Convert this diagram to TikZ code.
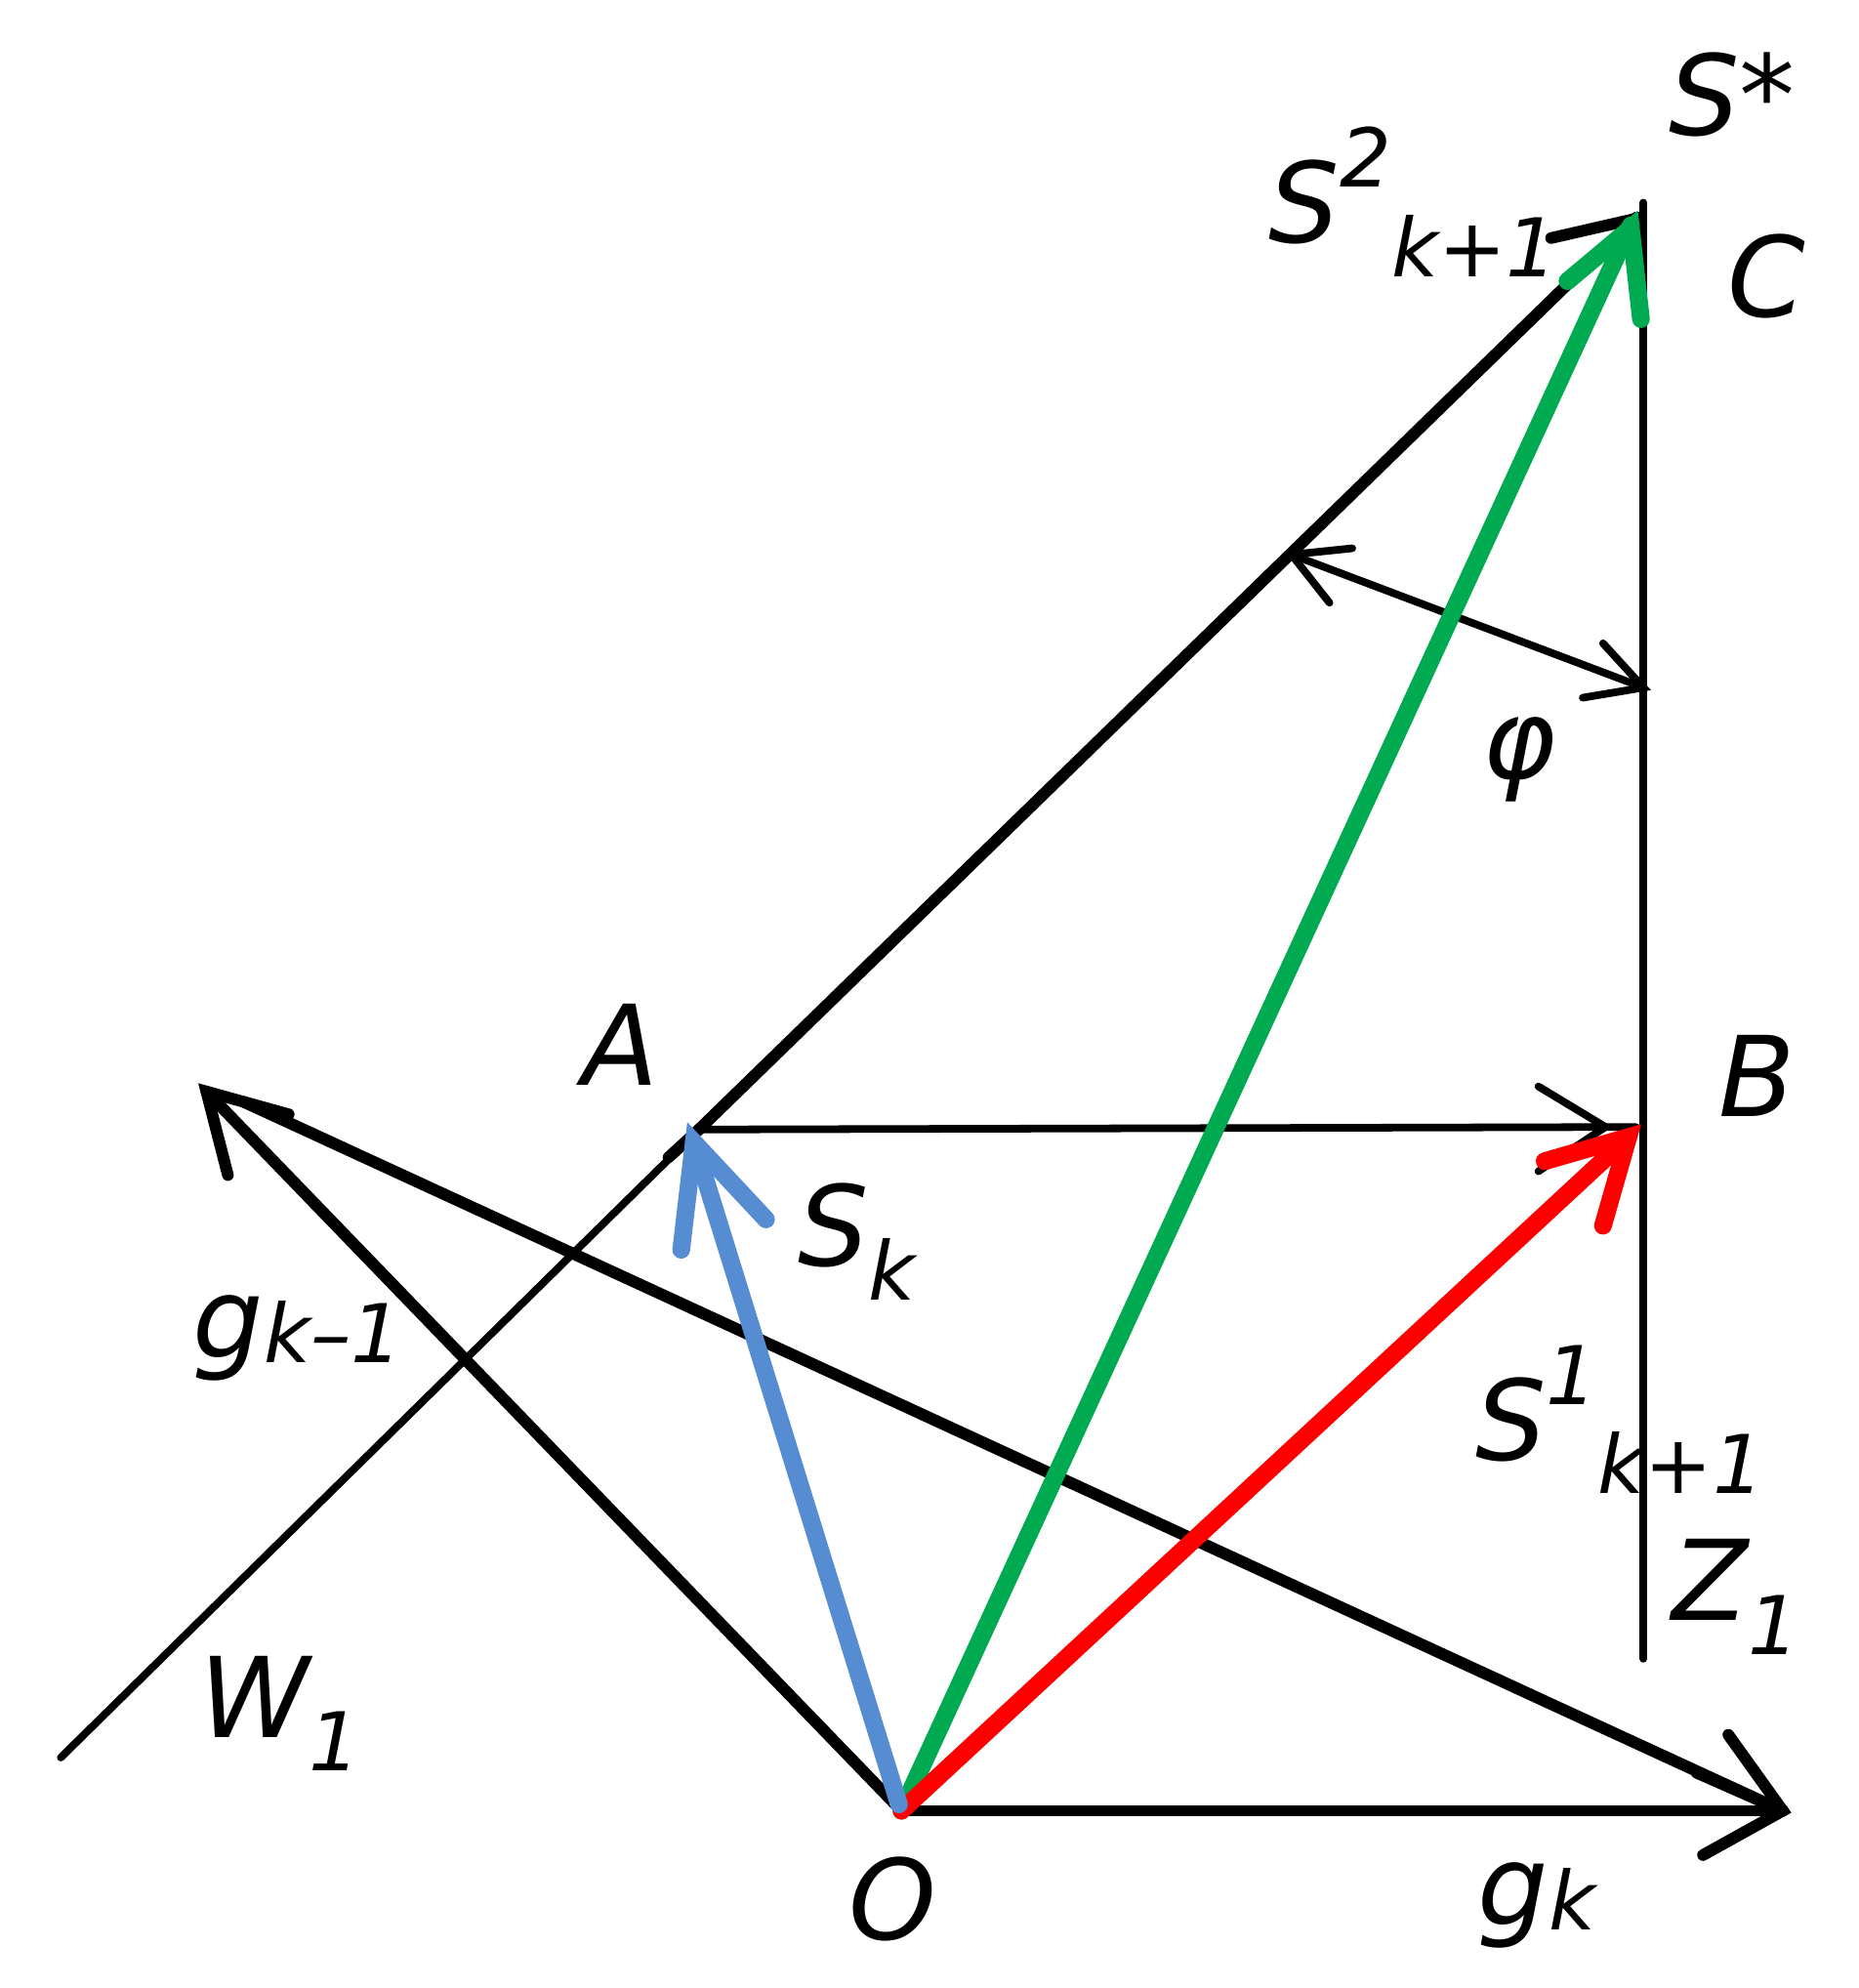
\documentclass[tikz,border=0pt]{standalone}
\usepackage{fontspec}
\setmainfont{DejaVu Sans}
\begin{document}
\begin{tikzpicture}[x=0.5pt,y=-0.5pt,line cap=round,
  thk/.style={line width=4.6pt},
  thn/.style={line width=3pt},
  col/.style={line width=7pt},
  lbl/.style={font=\fontsize{44}{52}\selectfont\itshape, inner sep=0pt}]
\useasboundingbox (0,0) rectangle (1468,1570);
\coordinate (O) at (712,1430);
\coordinate (Gk) at (1408,1430);
\coordinate (Gk1) at (163,862);
\coordinate (A) at (552,892);
\coordinate (B) at (1292,890);
\coordinate (C) at (1298,165);
\coordinate (Wend) at (48,1388);
\coordinate (Zb) at (1298,1310);
\coordinate (P1) at (1020,438);
\coordinate (P2) at (1298,543);
% black lines
\draw[thk] (O) -- (Gk);
\draw[thk] (1345,1465) -- (Gk) -- (1365,1370);
\draw[thk] (192,870) -- (Gk);
\draw[thk] (1340,1400) -- (Gk);
\draw[thk] (O) -- (Gk1);
\draw[thk] (180,928) -- (Gk1) -- (228,880);
\draw[thn] (Wend) -- (A);
\draw[thk] (A) -- (1292,172);
\draw[thk] (528,914) -- (A);
\draw[thk] (1225,188) -- (1295,172);
\draw[thn] (1298,160) -- (Zb);
\draw[thn] (A) -- (B);
\draw[thn] (1215,858) -- (1268,890) -- (1215,925);
\draw[thn] (P1) -- (P2);
\draw[thn] (1068,433) -- (P1) -- (1050,476);
\draw[thn] (1266,508) -- (P2) -- (1250,551);
% coloured vectors
\draw[col,draw={rgb,255:red,0;green,170;blue,80}] (O) -- (1288,178);
\draw[col,draw={rgb,255:red,0;green,170;blue,80}] (1238,222) -- (1288,180) -- (1296,252);
\draw[col,draw=red] (O) -- (1286,898);
\draw[col,draw=red] (1220,917) -- (1286,898) -- (1266,968);
\draw[col,draw={rgb,255:red,85;green,140;blue,210}] (710,1425) -- (548,902);
\draw[col,draw={rgb,255:red,85;green,140;blue,210}] (538,987) -- (548,902) -- (605,963);
% labels
\node[lbl] (lS) at (1368,75) {S*};
\node[lbl,anchor=base west] (lS2) at (1002,192) {S\raisebox{0.5em}{\fontsize{32}{38}\selectfont 2}\raisebox{-0.3em}{\fontsize{32}{38}\selectfont k+1}};
\node[lbl] (lC) at (1395,218) {C};
\node[lbl] (lphi) at (1200,600) {φ};
\node[lbl] (lA) at (490,825) {A};
\node[lbl] (lB) at (1388,850) {B};
\node[lbl,anchor=base west] (lSk) at (630,1000) {S\raisebox{-0.3em}{\fontsize{32}{38}\selectfont k}};
\node[lbl,anchor=base west] (lg1) at (152,1072) {g\raisebox{-0.05em}{\fontsize{32}{38}\selectfont k–1}};
\node[lbl,anchor=base west] (lS1) at (1165,1153) {S\raisebox{0.5em}{\fontsize{32}{38}\selectfont 1}\raisebox{-0.3em}{\fontsize{32}{38}\selectfont k+1}};
\node[lbl,anchor=base west] (lZ) at (1320,1280) {Z\raisebox{-0.3em}{\fontsize{32}{38}\selectfont 1}};
\node[lbl,anchor=base west] (lW) at (157,1372) {W\raisebox{-0.3em}{\fontsize{32}{38}\selectfont 1}};
\node[lbl] (lO) at (705,1500) {O};
\node[lbl,anchor=base west] (lgk) at (1167,1520) {g\raisebox{-0.05em}{\fontsize{32}{38}\selectfont k}};
\end{tikzpicture}
\end{document}
